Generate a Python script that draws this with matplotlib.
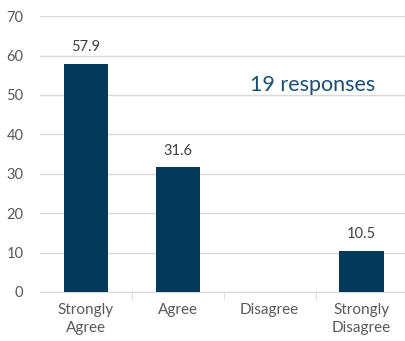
import matplotlib.pyplot as plt

categories = ["Strongly\nAgree", "Agree", "Disagree", "Strongly\nDisagree"]
values = [57.9, 31.6, 0, 10.5]
labels = ["57.9", "31.6", "", "10.5"]
yticks = [0, 10, 20, 30, 40, 50, 60, 70]

plt.rcParams['font.family'] = ['Lato', 'DejaVu Sans']

fig = plt.figure(figsize=(4.06, 3.41), dpi=100)
ax = fig.add_axes([0.0985, 0.1437, 0.905, 0.809])

x = range(len(categories))
bars = ax.bar(x, values, width=0.48, color='#03395C', zorder=3)
for b, lab in zip(bars, labels):
    if lab:
        ax.annotate(lab, (b.get_x() + b.get_width() / 2, b.get_height()),
                    xytext=(0, 7), textcoords='offset points',
                    ha='center', va='bottom', fontsize=10.5, color='#404040')

ax.set_xlim(-0.5, 3.5)
ax.set_ylim(0, 70)
ax.set_yticks(yticks)
ax.grid(axis='y', color='#D9D9D9', linewidth=1, zorder=0)
for s in ['top', 'right', 'left']:
    ax.spines[s].set_visible(False)
ax.spines['bottom'].set_color('#D9D9D9')

ax.set_xticks(list(x))
ax.set_xticklabels(categories, fontsize=11, color='#595959', linespacing=1.35)
ax.tick_params(axis='x', length=0, pad=8)
ax.set_xticks([0.5, 1.5, 2.5], minor=True)
ax.tick_params(axis='x', which='minor', length=5, color='#D9D9D9')
ax.tick_params(axis='y', length=0, labelsize=10.5, labelcolor='#595959', pad=12)

ax.text(2.47, 52.5, "19 responses", ha='center', va='center',
        fontsize=15.5, color='#1B4F72')

fig.savefig("out.png", dpi=100)
